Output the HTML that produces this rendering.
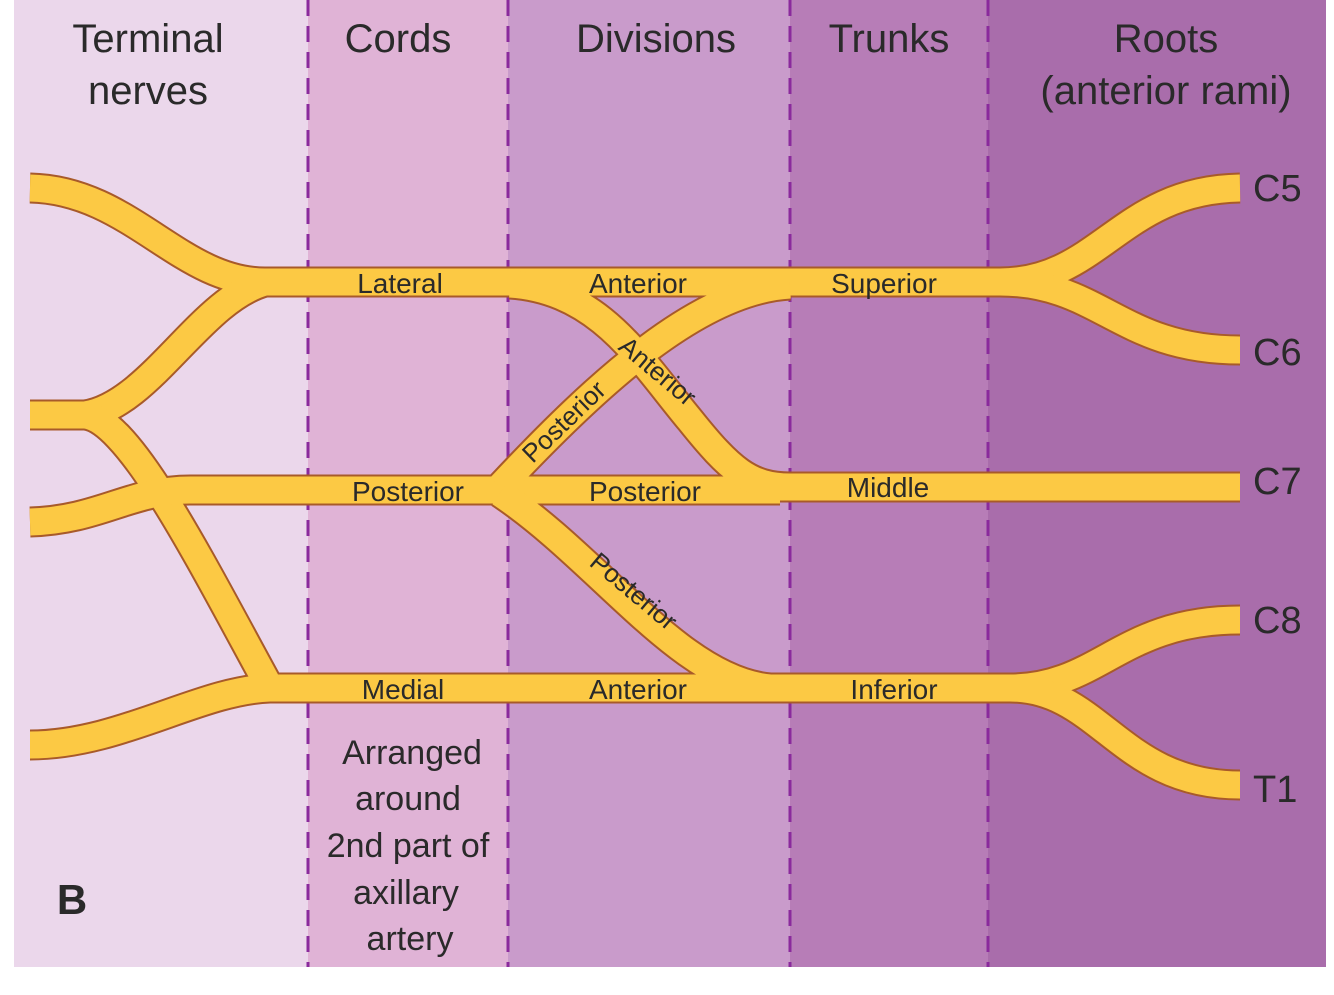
<!DOCTYPE html>
<html><head><style>
html,body{margin:0;padding:0;background:#fff;}
svg{display:block;}
text{font-family:"Liberation Sans",sans-serif;fill:#2a2a2a;}
</style></head><body>
<svg width="1334" height="995" viewBox="0 0 1334 995">
<rect x="14" y="0" width="294" height="967" fill="#ebd7eb"/>
<rect x="308" y="0" width="200" height="967" fill="#e0b3d6"/>
<rect x="508" y="0" width="282" height="967" fill="#c99bcb"/>
<rect x="790" y="0" width="198" height="967" fill="#b77db7"/>
<rect x="988" y="0" width="338" height="967" fill="#a96dab"/>
<g stroke="#8a2a9c" stroke-width="3" stroke-dasharray="16,10">
<line x1="308" y1="0" x2="308" y2="967"/><line x1="508" y1="0" x2="508" y2="967"/>
<line x1="790" y1="0" x2="790" y2="967"/><line x1="988" y1="0" x2="988" y2="967"/>
</g>
<g font-size="40" text-anchor="middle">
<text x="148" y="52">Terminal</text><text x="148" y="104">nerves</text>
<text x="398" y="52">Cords</text><text x="656" y="52">Divisions</text>
<text x="889" y="52">Trunks</text>
<text x="1166" y="52">Roots</text><text x="1166" y="104">(anterior rami)</text>
</g>
<g id="n" fill="none" stroke-linecap="butt">
<path id="p1" d="M30,188 C130,190 180,282 265,282 L1000,282"/>
<path id="p2" d="M30,415 L85,415 C150,405 200,300 265,282"/>
<path id="p3" d="M1000,282 C1100,282 1120,190 1240,188"/>
<path id="p4" d="M1000,282 C1100,282 1120,350 1240,350"/>
<path id="p5" d="M30,415 L85,415 C130,420 200,560 270,688 L1010,688"/>
<path id="p6" d="M30,745 C120,745 200,690 270,688"/>
<path id="p7" d="M30,522 C100,520 130,490 190,490 L780,490"/>
<path id="p8" d="M760,487 L1240,487"/>
<path id="p9" d="M510,284 C600,290 640,360 690,420 C730,470 750,487 790,487"/>
<path id="p10" d="M790,285 C700,290 600,380 500,487"/>
<path id="p11" d="M500,493 C600,560 680,680 770,688"/>
<path id="p12" d="M1010,688 C1100,688 1120,620 1240,620"/>
<path id="p13" d="M1010,688 C1100,688 1120,785 1240,785"/>
</g>
<g stroke="#a85a2a" stroke-width="31" fill="none">
<use href="#p1"/><use href="#p2"/><use href="#p3"/><use href="#p4"/><use href="#p5"/><use href="#p6"/><use href="#p7"/><use href="#p8"/><use href="#p9"/><use href="#p10"/><use href="#p11"/><use href="#p12"/><use href="#p13"/>
</g>
<g stroke="#fcc944" stroke-width="27" fill="none">
<use href="#p1"/><use href="#p2"/><use href="#p3"/><use href="#p4"/><use href="#p5"/><use href="#p6"/><use href="#p7"/><use href="#p8"/><use href="#p9"/><use href="#p10"/><use href="#p11"/><use href="#p12"/><use href="#p13"/>
</g>
<g font-size="28" text-anchor="middle">
<text x="400" y="293">Lateral</text><text x="638" y="293">Anterior</text><text x="884" y="293">Superior</text>
<text x="408" y="501">Posterior</text><text x="645" y="501">Posterior</text><text x="888" y="497">Middle</text>
<text x="403" y="699">Medial</text><text x="638" y="699">Anterior</text><text x="894" y="699">Inferior</text>
<text transform="translate(652,378) rotate(40)" font-size="26">Anterior</text>
<text transform="translate(570,428) rotate(-44)" font-size="26">Posterior</text>
<text transform="translate(628,598) rotate(40)" font-size="26">Posterior</text>
</g>
<g font-size="38">
<text x="1253" y="201">C5</text><text x="1253" y="365">C6</text><text x="1253" y="494">C7</text>
<text x="1253" y="633">C8</text><text x="1253" y="802">T1</text>
</g>
<g font-size="34" text-anchor="middle">
<text x="412" y="764">Arranged</text><text x="408" y="810">around</text>
<text x="408" y="857">2nd part of</text><text x="406" y="904">axillary</text><text x="410" y="950">artery</text>
</g>
<text x="72" y="914" font-size="42" font-weight="bold" text-anchor="middle">B</text>
</svg>
</body></html>
